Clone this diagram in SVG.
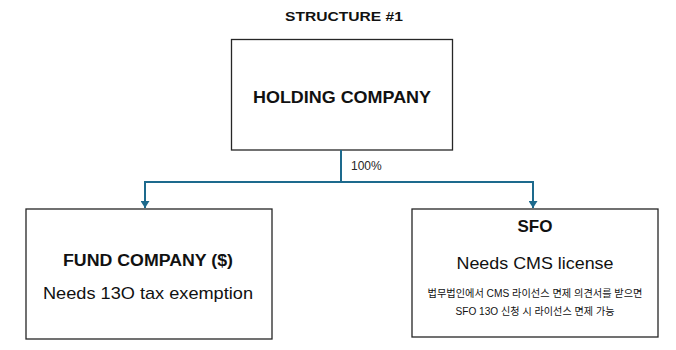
<svg xmlns="http://www.w3.org/2000/svg" width="676" height="350" viewBox="0 0 676 350">
<defs>
<style>
.box{fill:#ffffff;stroke:#262626;stroke-width:1.3}
.t{font-family:"Liberation Sans","Noto Sans",Arial,sans-serif;fill:#111111;text-anchor:middle}
.b{font-weight:bold}
.k{font-family:"Liberation Sans","Noto Sans CJK KR",sans-serif;fill:#111111;text-anchor:middle;font-size:10px}
.conn{fill:none;stroke:#1d6a8d;stroke-width:2}
</style>
<marker id="arr" viewBox="0 0 7 9" refX="7" refY="4.5" markerWidth="3.5" markerHeight="4.5" markerUnits="strokeWidth" orient="auto">
<path d="M0,0 L7,4.5 L0,9 z" fill="#1d6a8d"/>
</marker>
</defs>
<rect width="676" height="350" fill="#ffffff"/>
<text class="t b" x="344" y="21" font-size="13" textLength="118" lengthAdjust="spacingAndGlyphs">STRUCTURE #1</text>
<g id="holding">
<rect class="box" x="231.5" y="39.5" width="221" height="110.5"/>
<text class="t b" x="342" y="103" font-size="17" textLength="178" lengthAdjust="spacingAndGlyphs">HOLDING COMPANY</text>
</g>
<g id="fund">
<rect class="box" x="26" y="209" width="246" height="130"/>
<text class="t b" x="148" y="266" font-size="16" textLength="170" lengthAdjust="spacingAndGlyphs">FUND COMPANY ($)</text>
<text class="t" x="148" y="299" font-size="17" textLength="210" lengthAdjust="spacingAndGlyphs">Needs 13O tax exemption</text>
</g>
<g id="sfo">
<rect class="box" x="412" y="209" width="246" height="128"/>
<text class="t b" x="535" y="232" font-size="17">SFO</text>
<text class="t" x="535" y="269" font-size="17" textLength="157" lengthAdjust="spacingAndGlyphs">Needs CMS license</text>
<text class="k" x="535" y="297" textLength="215" lengthAdjust="spacingAndGlyphs">법무법인에서 CMS 라이선스 면제 의견서를 받으면</text>
<text class="k" x="535" y="315" textLength="159" lengthAdjust="spacingAndGlyphs">SFO 13O 신청 시 라이선스 면제 가능</text>
</g>
<g id="connectors">
<path class="conn" d="M341,150 V182"/>
<path class="conn" d="M341,182 H145 V208" marker-end="url(#arr)"/>
<path class="conn" d="M341,182 H533 V208" marker-end="url(#arr)"/>
<text class="t" x="351" y="170" font-size="12" style="text-anchor:start;fill:#262626">100%</text>
</g>
</svg>
